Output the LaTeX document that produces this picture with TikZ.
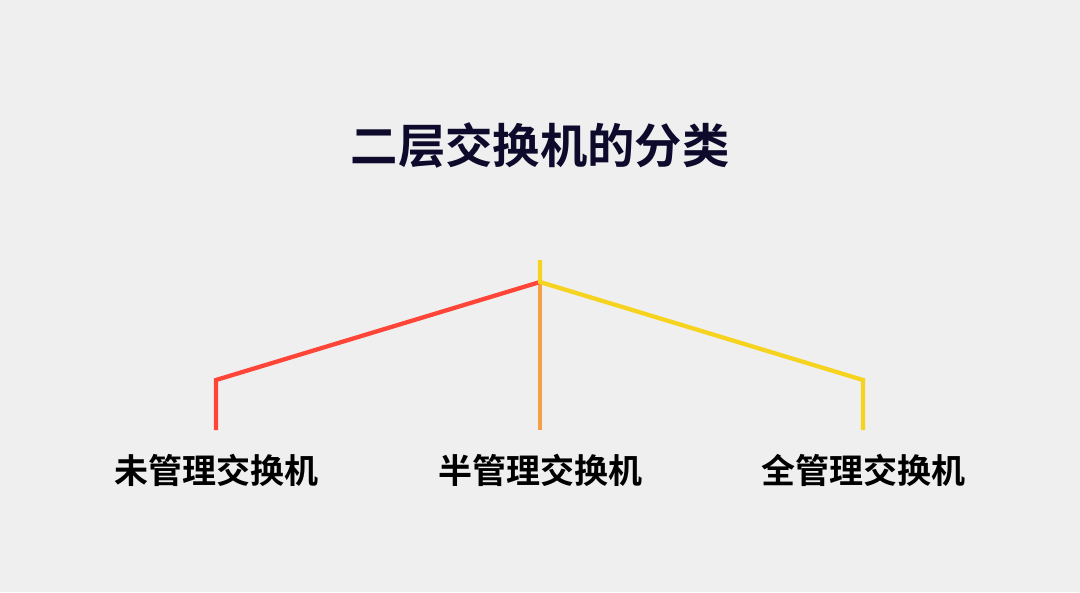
\documentclass[tikz,border=0pt]{standalone}
\usepackage{fontspec}
\newfontfamily\cjk{Noto Sans CJK SC Bold}
\usepackage{tikz}
\usetikzlibrary{positioning}

\definecolor{bgray}{HTML}{EFEFEF}
\definecolor{navy}{HTML}{0D0A2B}
\definecolor{lred}{HTML}{FF4438}
\definecolor{lorange}{HTML}{F5A048}
\definecolor{lyellow}{HTML}{F6D31E}

\begin{document}
\begin{tikzpicture}
    [
    x=0.75pt, y=-0.75pt,
    title/.style={font=\cjk\fontsize{35.5}{40}\selectfont, text=navy},
    kind/.style={font=\cjk\fontsize{25.5}{30}\selectfont, text=black},
    branch/.style={line width=3.2pt, line join=miter},
    ]
    \fill [bgray] (0,0) rectangle (1080,592);
    \useasboundingbox (0,0) rectangle (1080,592);

    \node (t) at (540,145) [title] {二层交换机的分类};

    \coordinate (top) at (540,260);
    \coordinate (hub) at (540,282);
    \coordinate (l) at (216,380);
    \coordinate (r) at (863,380);
    \coordinate (le) at (216,430);
    \coordinate (me) at (540,430);
    \coordinate (re) at (863,430);

    \node (a) at (216,470) [kind] {未管理交换机};
    \node (b) at (540,470) [kind] {半管理交换机};
    \node (c) at (863,470) [kind] {全管理交换机};

    \draw [branch, lorange] (hub) to (me);
    \draw [branch, lred] (hub) -- (l) -- (le);
    \draw [branch, lyellow] (top) -- (hub) -- (r) -- (re);
  \end{tikzpicture}
\end{document}
